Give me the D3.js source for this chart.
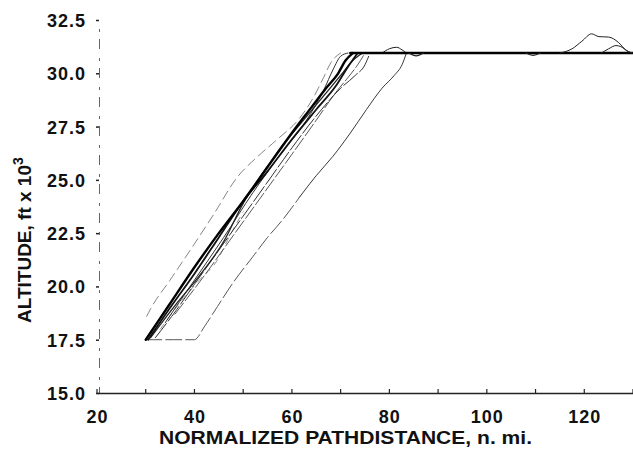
<!DOCTYPE html>
<html>
<head>
<meta charset="utf-8">
<script src="https://cdn.jsdelivr.net/npm/d3@7"></script>
<style>
  html, body { margin: 0; padding: 0; background: #fff; }
  svg { display: block; }
  text { font-family: "Liberation Sans", Arial, Helvetica, sans-serif; font-weight: bold; fill: #111; }
</style>
</head>
<body>
<svg id="chart" width="633" height="450"></svg>
<script>
// ---- data (distance n.mi., altitude ft x 10^3) ----
const xTicks = [20, 40, 60, 80, 100, 120];
const xMinorTicks = [30, 50, 70, 90, 110, 130];
const yTicks = [15.0, 17.5, 20.0, 22.5, 25.0, 27.5, 30.0, 32.5];

const trackMainA = [[30,17.5],[35,19.2],[40,20.9],[45,22.5],[50,24.0],[55,25.6],[60,27.2],[64,28.4],[67,29.3],[69.5,30.0],[71,30.6],[72.5,30.95]];
const trackMainB = [[30.5,17.5],[35,19.0],[40,20.6],[45,22.3],[50,24.0],[55,25.4],[60,26.9],[65,28.3],[69,29.4],[71.5,30.3],[73.5,30.95]];
const trackC = [[31,17.6],[36,19.1],[41,20.5],[46,22.1],[50,23.9],[54,25.3],[58,26.6],[62,27.7],[66,28.8],[70,29.9],[72.5,30.6],[74.5,30.95]];
const trackD = [[32,17.6],[36,18.8],[40,20.1],[45,21.7],[50,23.3],[55,24.9],[60,26.5],[65,28.0],[70,29.3],[73,29.9],[75,30.4],[76,30.95]];
const trackE = [[34,18.3],[40,20.3],[46,22.3],[52,24.4],[58,26.3],[63,27.8],[66.5,29.2],[68.5,30.2],[70,30.8],[71.5,30.95]];
const trackF = [[36,18.7],[42,20.5],[48,22.4],[54,24.3],[60,26.2],[65,27.8],[69,29.1],[71.5,29.8],[73.5,30.4],[75,30.95]];
const trackLeftFaint = [[30.2,18.6],[31,18.95],[35,20.3],[40,22.0],[44,23.4],[48.7,25.1],[53,26.1],[57,26.9],[61.6,27.9],[64.5,28.9],[66.5,29.8],[68,30.5],[70,30.95]];
const trackMidFaint = [[33,18.0],[37.6,19.4],[41,20.3],[44.6,21.2],[47.3,22.4],[50,23.5]];
const trackSlowLow = [[30,17.5],[40,17.5],[42,18.1],[44,18.8],[48,20.2],[52,21.4],[55,22.3],[58,23.1],[61.6,24.2]];
const trackSlowHigh = [[61.6,24.2],[65,25.2],[68.4,26.1],[72,27.2],[75.3,28.3],[78.5,29.3],[81,29.9],[82.6,30.4],[83.5,30.95]];
const bumpSlow = [[78.5,30.95],[80,31.15],[81.5,31.22],[82.6,31.1],[83.5,30.95]];
const cruiseLevel = [[72,30.95],[130,30.95]];
const bumpHigh = [[115,30.95],[117.5,31.15],[119.5,31.5],[121.5,31.85],[123,31.72],[125,31.7],[127,31.45],[128.5,31.1],[129.7,30.95]];
const bumpLow = [[123.5,30.95],[125,31.15],[126.5,31.3],[127.5,31.25],[129,31.02],[130,30.95]];
const dipA = [[84,30.95],[85.5,30.82],[87,30.95]];
const dipB = [[108,30.95],[109.5,30.84],[111,30.95]];

// ---- layout ----
const svg = d3.select("#chart");
const x = d3.scaleLinear().domain([20, 130]).range([97, 633]);
const y = d3.scaleLinear().domain([15, 32.5]).range([393, 20]);

const line = d3.line().x(d => x(d[0])).y(d => y(d[1])).curve(d3.curveMonotoneX);

// ---- axes ----
const yAxis = d3.axisLeft(y).tickValues(yTicks).tickSize(3).tickFormat(d3.format(".1f")).tickPadding(10);
const gy = svg.append("g").attr("transform", `translate(${x(20) + 2},0)`).call(yAxis);
gy.select(".domain").attr("stroke", "#666").attr("stroke-width", 1).attr("stroke-dasharray", "10,7,3,9");
gy.selectAll(".tick line").attr("stroke", "#222").attr("stroke-width", 1.5);
gy.selectAll(".tick text").attr("font-size", 18).attr("font-weight", "bold").attr("fill", "#111")
  .attr("font-family", "'Liberation Sans', Arial, sans-serif").attr("letter-spacing", 1)
  .attr("dy", "0.36em");

const xAxis = d3.axisBottom(x).tickValues(xTicks).tickSize(0).tickPadding(0).tickFormat(d3.format("d"));
const gx = svg.append("g").attr("transform", `translate(0,${y(15)})`).call(xAxis);
gx.select(".domain").attr("stroke", "#222").attr("stroke-width", 1.4);
gx.selectAll(".tick text").attr("font-size", 18).attr("font-weight", "bold").attr("fill", "#111")
  .attr("font-family", "'Liberation Sans', Arial, sans-serif").attr("letter-spacing", 1)
  .attr("dy", 0).attr("y", 30);
svg.append("g").selectAll("line").data(xTicks.concat(xMinorTicks)).join("line")
  .attr("x1", d => x(d)).attr("x2", d => x(d))
  .attr("y1", y(15)).attr("y2", y(15) - 4)
  .attr("stroke", "#222").attr("stroke-width", 1.2);

// ---- titles ----
svg.append("text")
  .attr("x", 159).attr("y", 444)
  .attr("font-size", 18).attr("textLength", 373).attr("lengthAdjust", "spacingAndGlyphs")
  .text("NORMALIZED PATHDISTANCE, n. mi.");

const yt = svg.append("text")
  .attr("transform", "translate(31,323) rotate(-90)")
  .attr("font-size", 19);
yt.append("tspan").text("ALTITUDE, ft x 10");
yt.append("tspan").attr("font-size", 14).attr("dy", -8).text("3");

// ---- trajectories ----
const g = svg.append("g").attr("fill", "none").attr("stroke-linecap", "round").attr("stroke-linejoin", "round");
const styled = [
  { d: trackLeftFaint, w: 0.8, c: "#666", dash: "9,5" },
  { d: trackMidFaint,  w: 0.8, c: "#777", dash: "6,6" },
  { d: trackSlowLow,   w: 0.9, c: "#444", dash: "16,4" },
  { d: trackSlowHigh,  w: 0.9, c: "#222", dash: null },
  { d: bumpSlow,       w: 1.0, c: "#222", dash: null },
  { d: trackF,         w: 0.9, c: "#444", dash: "14,3" },
  { d: trackE,         w: 1.0, c: "#333", dash: null },
  { d: trackD,         w: 1.0, c: "#333", dash: "18,3" },
  { d: trackC,         w: 1.3, c: "#222", dash: null },
  { d: trackMainB,     w: 1.8, c: "#111", dash: null },
  { d: trackMainA,     w: 2.4, c: "#000", dash: null },
  { d: cruiseLevel,    w: 2.6, c: "#000", dash: null },
  { d: bumpHigh,       w: 1.0, c: "#222", dash: null },
  { d: bumpLow,        w: 1.0, c: "#222", dash: null },
  { d: dipA,           w: 1.2, c: "#222", dash: null },
  { d: dipB,           w: 1.2, c: "#222", dash: null }
];
g.selectAll("path").data(styled).join("path")
  .attr("d", s => line(s.d))
  .attr("stroke", s => s.c)
  .attr("stroke-width", s => s.w)
  .attr("stroke-dasharray", s => s.dash);
</script>
</body>
</html>
